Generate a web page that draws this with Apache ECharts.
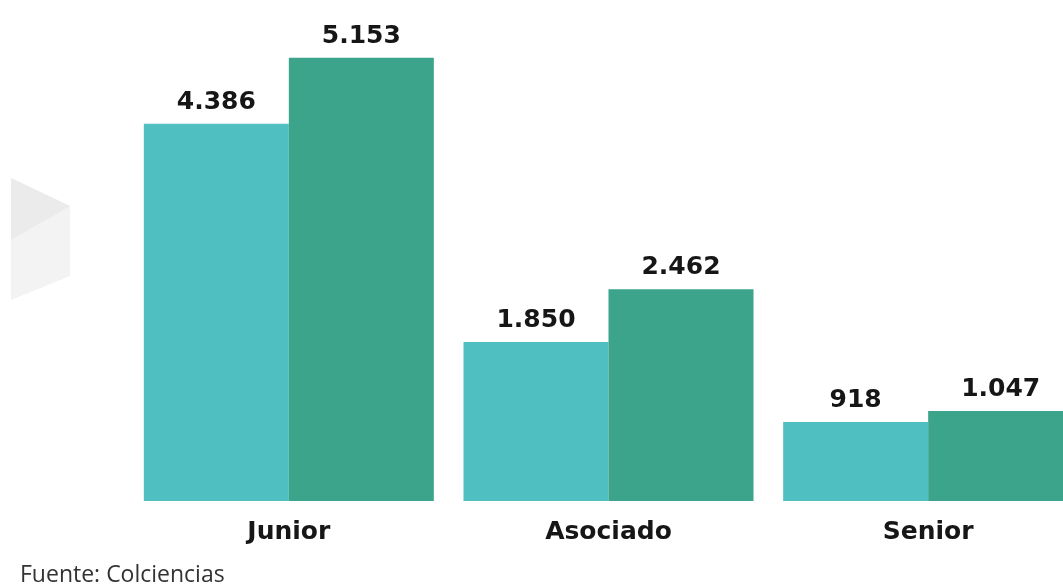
<!DOCTYPE html>
<html>
<head>
<meta charset="utf-8">
<script src="https://cdn.jsdelivr.net/npm/echarts@6/dist/echarts.min.js"></script>
<style>
  html, body { margin: 0; padding: 0; background: #fff; }
  #main { width: 1063px; height: 588px; }
</style>
</head>
<body>
<div id="main"></div>
<script>
var categories = ['Junior', 'Asociado', 'Senior'];
var serieA = [4386, 1850, 918];
var serieB = [5153, 2462, 1047];

var myChart = echarts.init(document.getElementById('main'));

// formato con punto de miles
function miles(v) {
    return String(v).replace(/\B(?=(\d{3})+(?!\d))/g, '.');
}

var etiqueta = {
    show: true,
    position: 'top',
    distance: 9,
    color: '#161616',
    fontFamily: 'DejaVu Sans',
    fontWeight: 'bold',
    fontSize: 25,
    formatter: function (p) { return miles(p.value); }
};

option = {
    animation: false,
    grid: {
        left: 129,
        top: 28,
        bottom: 87,
        right: -25,
        outerBoundsMode: 'none',
        containLabel: false
    },
    xAxis: {
        type: 'category',
        data: categories,
        axisLine: { show: false },
        axisTick: { show: false },
        axisLabel: {
            margin: 19,
            color: '#161616',
            fontFamily: 'DejaVu Sans',
            fontWeight: 'bold',
            fontSize: 25
        }
    },
    yAxis: {
        type: 'value',
        min: 0,
        max: 5500,
        show: false,
        splitLine: { show: false }
    },
    graphic: [
        {
            type: 'polygon',
            shape: { points: [[11, 178], [70, 206], [70, 276], [11, 300]] },
            style: { fill: '#f3f3f3' }
        },
        {
            type: 'polygon',
            shape: { points: [[11, 178], [70, 206], [11, 240]] },
            style: { fill: '#ebebeb' }
        },
        {
            type: 'text',
            left: 20,
            top: 564,
            style: {
                text: 'Fuente: Colciencias',
                fill: '#333',
                fontFamily: 'Open Sans',
                fontSize: 23
            }
        }
    ],
    series: [
        {
            type: 'bar',
            data: serieA,
            barWidth: 145,
            barGap: '0%',
            itemStyle: { color: '#50bfc1' },
            label: etiqueta
        },
        {
            type: 'bar',
            data: serieB,
            barWidth: 145,
            itemStyle: { color: '#3ba48b' },
            label: etiqueta
        }
    ]
};

myChart.setOption(option);
</script>
</body>
</html>
